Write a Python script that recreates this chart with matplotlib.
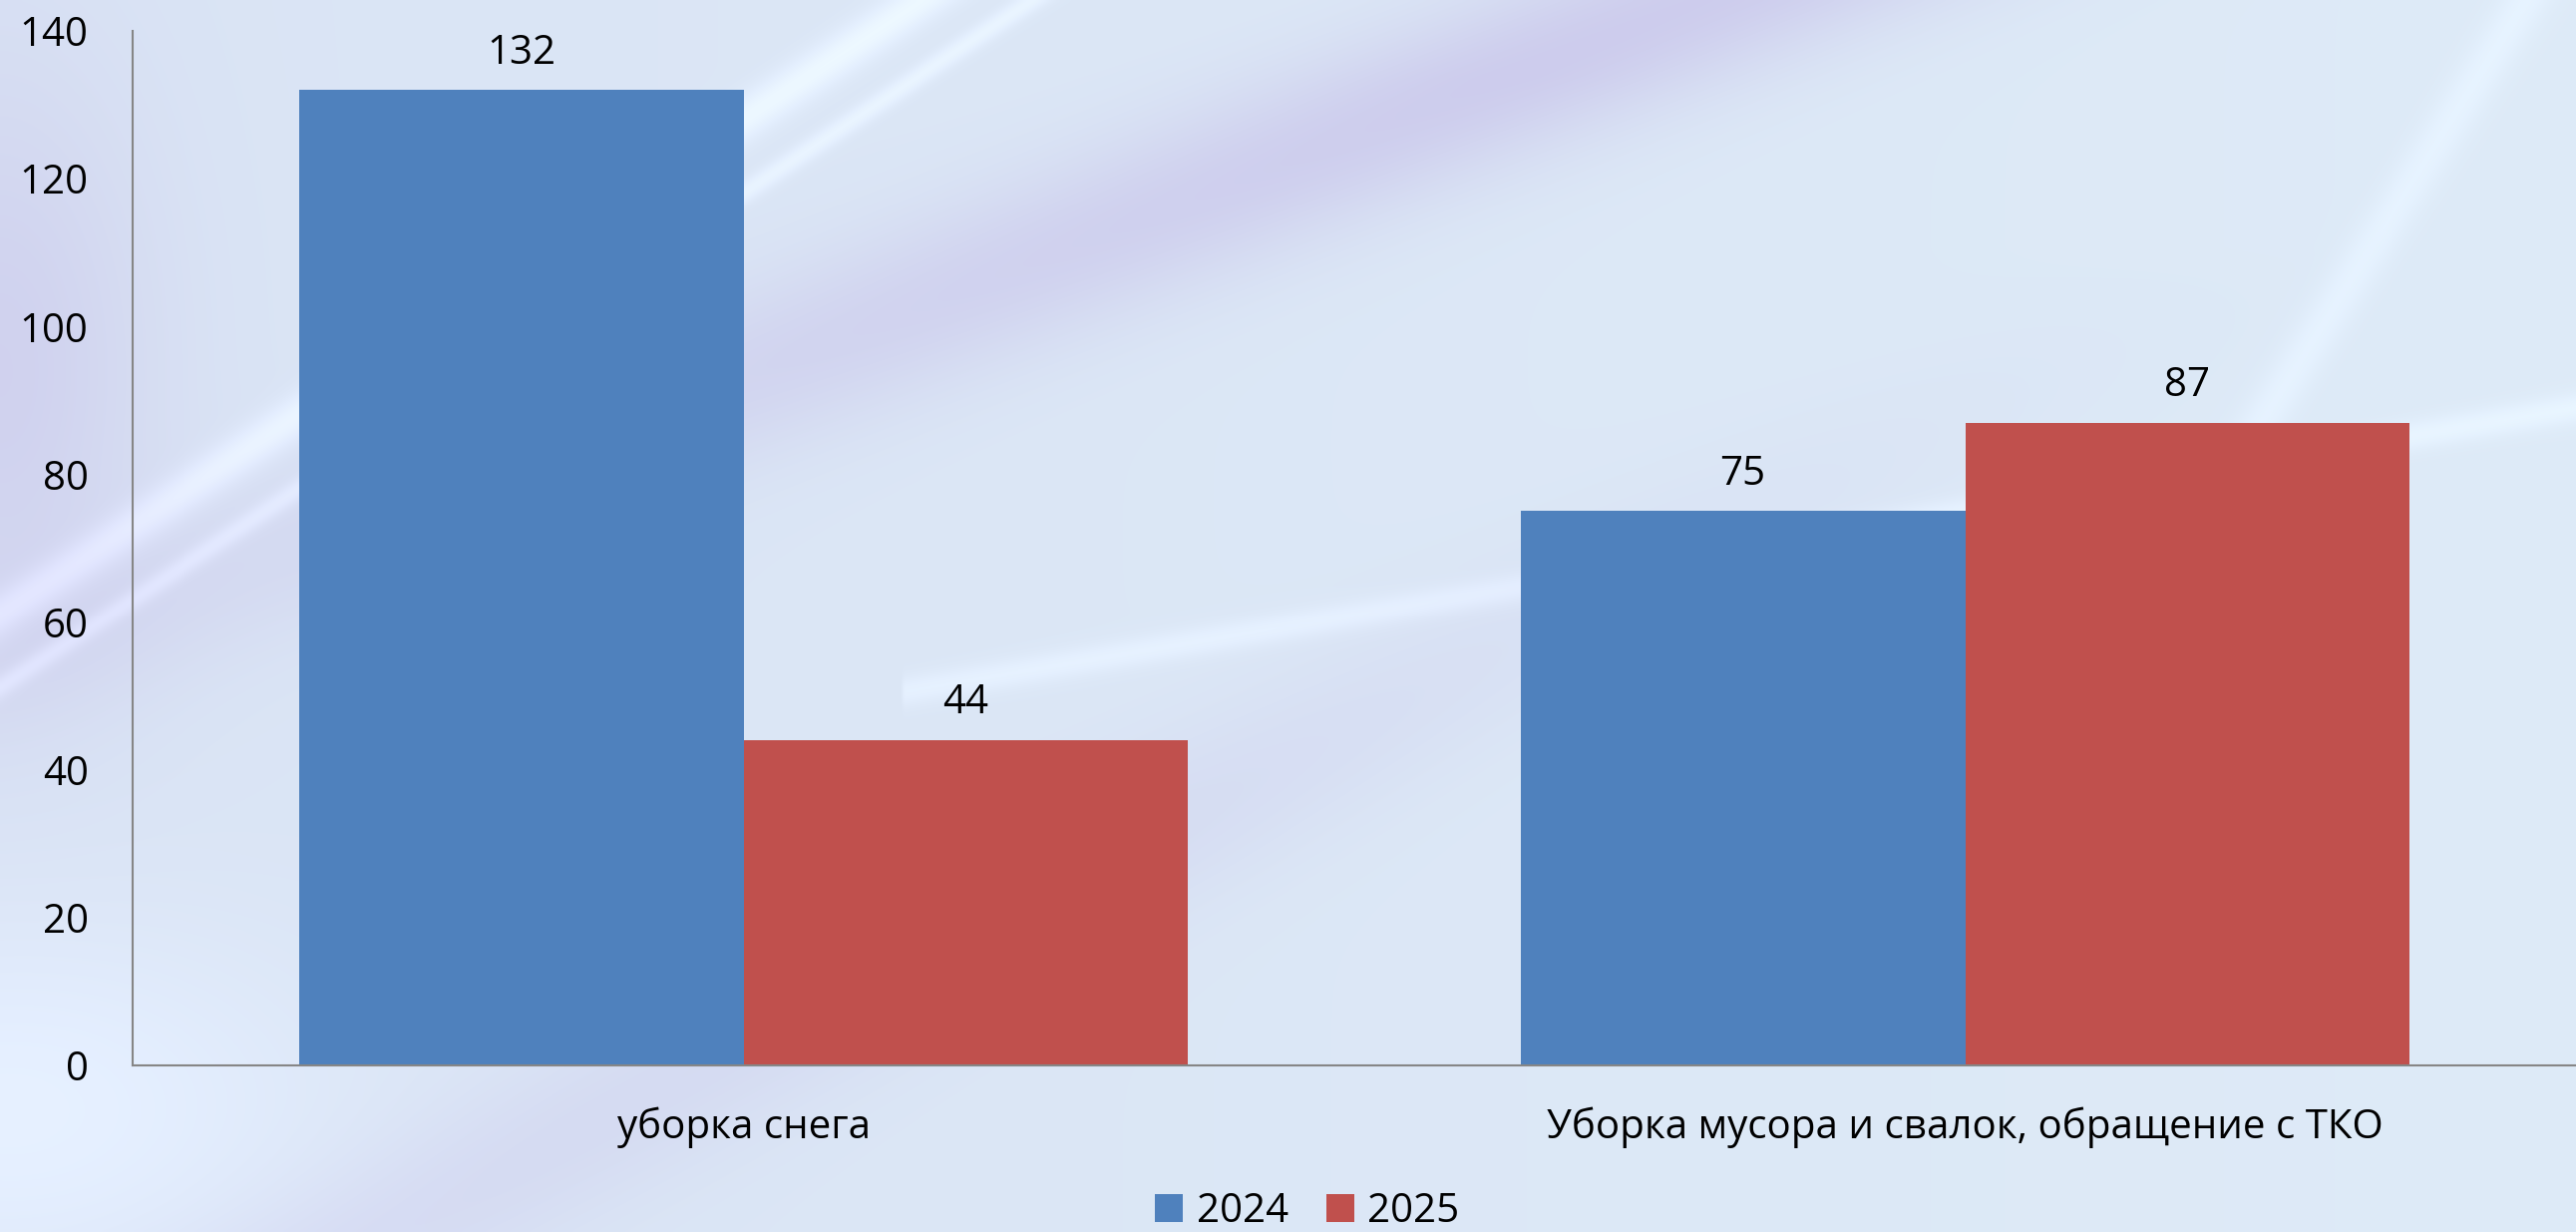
import numpy as np
import matplotlib.pyplot as plt

plt.rcParams['font.family'] = ['Open Sans', 'DejaVu Sans']

categories = ['уборка снега', 'Уборка мусора и свалок, обращение с ТКО']
years = ['2024', '2025']
vals_2024 = [132, 75]
vals_2025 = [44, 87]
yticks = [0, 20, 40, 60, 80, 100, 120, 140]

c_blue = '#4F81BD'
c_red = '#C0504D'
fs = 29

fig = plt.figure(figsize=(25.83, 12.35), dpi=100)

# soft bluish background with diagonal streaks (slide template look)
h, w = 494, 1033
yy, xx = np.mgrid[0:h, 0:w]
u = xx / w
v = yy / h  # 0 at top
bg = np.zeros((h, w, 3))
bg[..., 0] = 0.855 + 0.015 * u
bg[..., 1] = 0.895 + 0.025 * u
bg[..., 2] = 0.960 + 0.010 * u

def band(dist, width):
    return np.exp(-(dist / width) ** 2)

lav = 0.9 * band(u + 1.2 * v - 0.66, 0.09) * np.clip(1.1 - v * 1.6, 0, 1)
lav += 0.6 * band(u, 0.06) * band(v - 0.3, 0.25)
lav += 0.35 * band(u + 0.9 * v - 1.05, 0.07) * np.clip(v * 2 - 0.4, 0, 1)
bg[..., 0] -= 0.065 * lav
bg[..., 1] -= 0.12 * lav
bg[..., 2] -= 0.04 * lav

wht = band(u / 0.357 + v / 0.497 - 1, 0.04)
wht += 0.8 * band(u / 0.357 + v / 0.497 - 1.12, 0.02)
wht += 0.6 * band(v - 0.33 - (1.0 - u) * 0.355, 0.012) * (u > 0.35)
wht += 0.7 * band(u, 0.12) * band(v - 0.9, 0.15)
wht += 0.5 * band(u - 0.98 + 0.3 * v, 0.01) * (v < 0.5)
bg += 0.07 * wht[..., None]
bg = np.clip(bg, 0, 1)
bax = fig.add_axes([0, 0, 1, 1], zorder=-5)
bax.imshow(bg, aspect='auto', extent=[0, 1, 0, 1], interpolation='bicubic')
bax.axis('off')

ax = fig.add_axes([0.0515, 0.1352, 0.9485, 0.8397])
ax.patch.set_alpha(0)

x = np.arange(len(categories))
bw = 0.364
b1 = ax.bar(x - bw / 2, vals_2024, bw, color=c_blue, label=years[0])
b2 = ax.bar(x + bw / 2, vals_2025, bw, color=c_red, label=years[1])
ax.bar_label(b1, padding=12, fontsize=fs)
ax.bar_label(b2, padding=12, fontsize=fs)

ax.set_xlim(-0.5, 1.5)
ax.set_ylim(0, 140)
ax.set_yticks(yticks)
ax.set_xticks(x)
ax.set_xticklabels(categories)
ax.tick_params(axis='both', length=0, labelsize=fs)
ax.tick_params(axis='y', pad=32)
ax.tick_params(axis='x', pad=30)
for s in ['top', 'right']:
    ax.spines[s].set_visible(False)
for s in ['left', 'bottom']:
    ax.spines[s].set_color('#868686')
    ax.spines[s].set_linewidth(1.5)

fig.legend(loc='center', bbox_to_anchor=(0.5075, 0.0165), ncol=2, frameon=False,
           fontsize=fs, handlelength=0.7, handleheight=0.7, handletextpad=0.33,
           columnspacing=0.95)

plt.savefig('out.png', dpi=100)
